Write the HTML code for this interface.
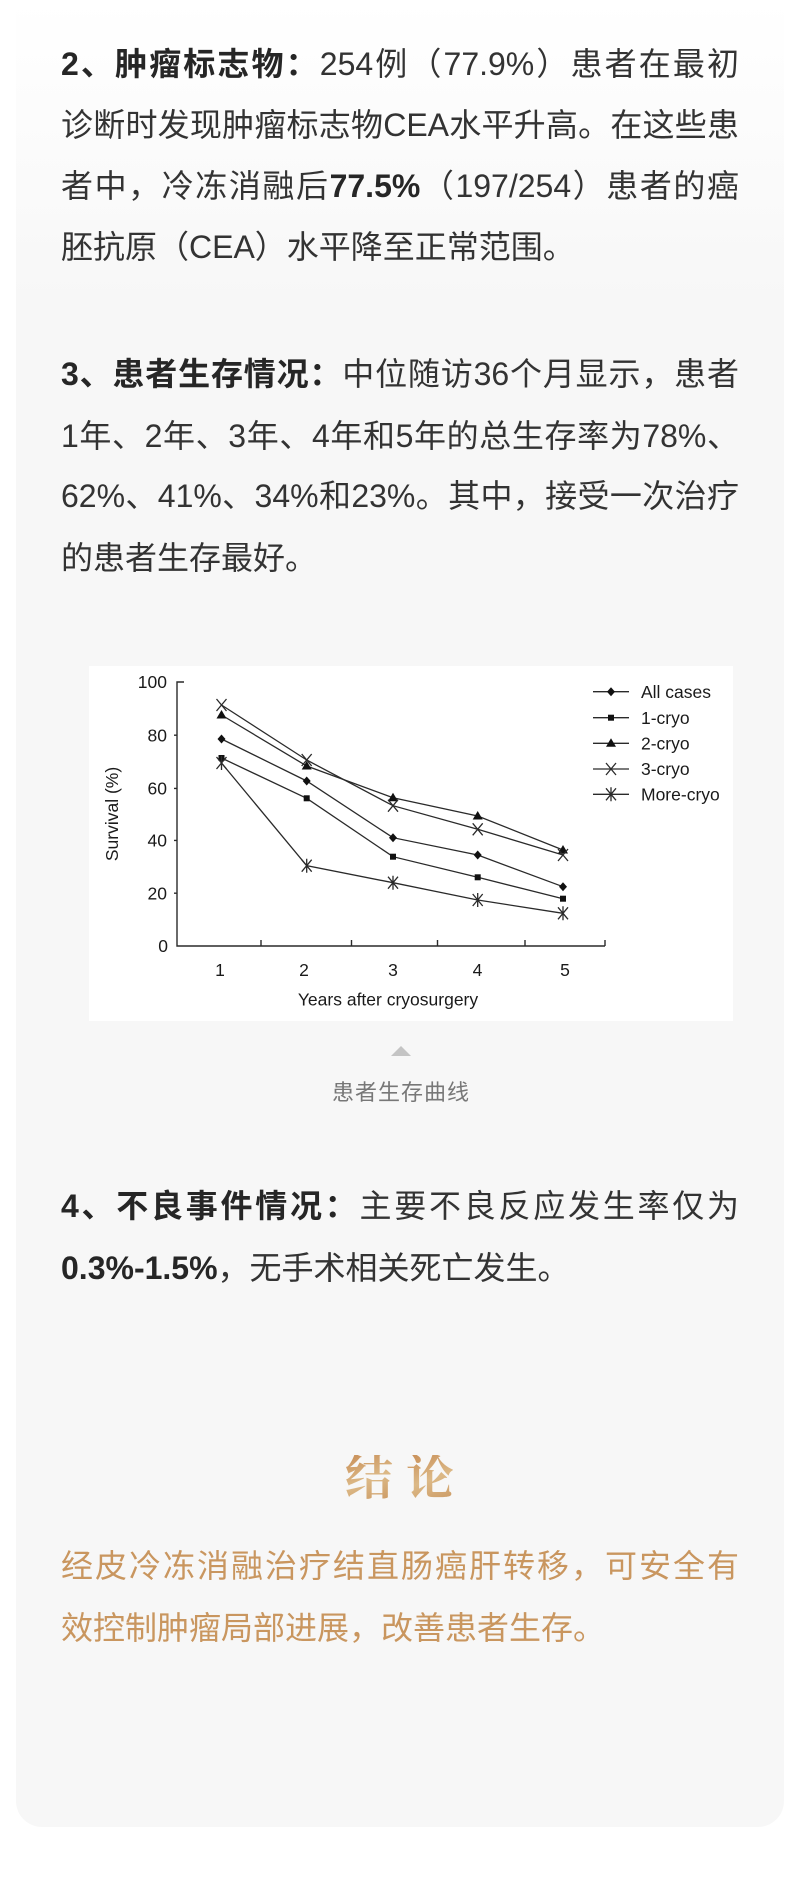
<!DOCTYPE html>
<html>
<head>
<meta charset="utf-8">
<style>
html,body{margin:0;padding:0;background:#fff;}
body{width:800px;height:1890px;position:relative;overflow:hidden;}
.card{position:absolute;left:16px;top:0;width:768px;height:1827px;border-radius:0 0 26px 26px;background:linear-gradient(to bottom,#ffffff 0px,#f7f7f7 300px,#f7f7f7 100%);}
.ln{position:absolute;left:61px;width:678px;height:61px;line-height:61px;font-size:32px;font-family:"Liberation Sans","Noto Sans CJK SC",sans-serif;color:#333;white-space:nowrap;}
.j{text-align:justify;text-align-last:justify;}
.ln b{font-weight:700;color:#262626;}
.gold{color:#c9965f;}
.h{position:absolute;top:1455px;width:52px;height:48px;line-height:48px;font-size:48px;font-weight:700;font-family:"Liberation Serif","Noto Serif CJK SC",serif;background:linear-gradient(160deg,#c88e57 0%,#dcb987 50%,#c9955f 100%);-webkit-background-clip:text;background-clip:text;color:transparent;}
.chart{position:absolute;left:89px;top:666px;width:644px;height:355px;background:#fff;}
.tri{position:absolute;left:391px;top:1046px;width:0;height:0;border-left:10px solid transparent;border-right:10px solid transparent;border-bottom:10px solid #c4c4c4;}
.cap{position:absolute;left:0;top:1082px;width:800px;text-align:center;font-size:22px;line-height:22px;letter-spacing:1px;padding-left:1px;color:#777;font-family:"Liberation Sans","Noto Sans CJK SC",sans-serif;}
</style>
</head>
<body>
<div class="card"></div>

<div class="ln j" style="top:34px"><b>2、肿瘤标志物：</b>254例（77.9%）患者在最初</div>
<div class="ln j" style="top:95px">诊断时发现肿瘤标志物CEA水平升高。在这些患</div>
<div class="ln j" style="top:156px">者中，冷冻消融后<b>77.5%</b>（197/254）患者的癌</div>
<div class="ln" style="top:217px">胚抗原（CEA）水平降至正常范围。</div>

<div class="ln j" style="top:344px"><b>3、患者生存情况：</b>中位随访36个月显示，患者</div>
<div class="ln j" style="top:406px">1年、2年、3年、4年和5年的总生存率为78%、</div>
<div class="ln j" style="top:466px">62%、41%、34%和23%。其中，接受一次治疗</div>
<div class="ln" style="top:528px">的患者生存最好。</div>

<div class="chart"></div>
<svg style="position:absolute;left:89px;top:666px" width="644" height="355" viewBox="89 666 644 355" xmlns="http://www.w3.org/2000/svg">
  <g stroke="#2a2a2a" stroke-width="1.4" fill="none">
    <path d="M184 682 H177 V946 H605"/>
    <path d="M174 735.2 H177 M174 788.4 H177 M174 840.4 H177 M174 893.2 H177"/>
    <path d="M261 946 V940 M351.5 946 V940 M437.5 946 V940 M525 946 V940 M605 946 V940"/>
  </g>
  <g font-family="Liberation Sans, DejaVu Sans, sans-serif" font-size="17.5" fill="#1a1a1a">
    <g text-anchor="end">
      <text x="167" y="688">100</text>
      <text x="167" y="741.3">80</text>
      <text x="167" y="794.5">60</text>
      <text x="167" y="846.5">40</text>
      <text x="167" y="899.3">20</text>
      <text x="168" y="952">0</text>
    </g>
    <g text-anchor="middle">
      <text x="220" y="976">1</text>
      <text x="304" y="976">2</text>
      <text x="393" y="976">3</text>
      <text x="477.5" y="976">4</text>
      <text x="565" y="976">5</text>
      <text x="388" y="1005.5">Years after cryosurgery</text>
      <text transform="translate(118,814) rotate(-90)" x="0" y="0">Survival (%)</text>
    </g>
    <text x="641" y="698">All cases</text>
    <text x="641" y="724">1-cryo</text>
    <text x="641" y="749.5">2-cryo</text>
    <text x="641" y="775.2">3-cryo</text>
    <text x="641" y="800.5">More-cryo</text>
  </g>
  <g stroke="#2a2a2a" stroke-width="1.3" fill="none">
    <polyline points="221.5,739 306.7,781 393,837.7 477.7,855 563,886.7"/>
    <polyline points="221.5,758 306.7,798.3 393,856.7 477.7,877.3 563,898.7"/>
    <polyline points="221.5,715 306.7,766 393,797.7 477.7,816 563,850"/>
    <polyline points="221.5,705 306.7,760 393,805.7 477.7,829.3 563,855"/>
    <polyline points="221.5,763 306.7,865.7 393,882.7 477.7,900 563,913.3"/>
    <path d="M593 691.7 H629 M593 717.7 H629 M593 743.3 H629 M593 769 H629 M593 794.3 H629"/>
  </g>
  <defs>
    <path id="dia" d="M0 -4.5 L4 0 L0 4.5 L-4 0 Z" fill="#111"/>
    <rect id="sq" x="-3" y="-3" width="6" height="6" fill="#111"/>
    <path id="tri" d="M0 -5 L5 3.5 L-5 3.5 Z" fill="#111"/>
    <path id="xx" d="M-5 -6 L5 6 M5 -6 L-5 6" stroke="#2a2a2a" stroke-width="1.3" fill="none"/>
    <path id="ast" d="M-5 -6 L5 6 M5 -6 L-5 6 M0 -7 V7" stroke="#2a2a2a" stroke-width="1.3" fill="none"/>
  </defs>
  <g>
    <use href="#dia" x="221.5" y="739"/><use href="#dia" x="306.7" y="781"/><use href="#dia" x="393" y="837.7"/><use href="#dia" x="477.7" y="855"/><use href="#dia" x="563" y="886.7"/>
    <use href="#sq" x="221.5" y="758"/><use href="#sq" x="306.7" y="798.3"/><use href="#sq" x="393" y="856.7"/><use href="#sq" x="477.7" y="877.3"/><use href="#sq" x="563" y="898.7"/>
    <use href="#tri" x="221.5" y="715"/><use href="#tri" x="306.7" y="766"/><use href="#tri" x="393" y="797.7"/><use href="#tri" x="477.7" y="816"/><use href="#tri" x="563" y="850"/>
    <use href="#xx" x="221.5" y="705"/><use href="#xx" x="306.7" y="760"/><use href="#xx" x="393" y="805.7"/><use href="#xx" x="477.7" y="829.3"/><use href="#xx" x="563" y="855"/>
    <use href="#ast" x="221.5" y="763"/><use href="#ast" x="306.7" y="865.7"/><use href="#ast" x="393" y="882.7"/><use href="#ast" x="477.7" y="900"/><use href="#ast" x="563" y="913.3"/>
    <use href="#dia" x="611" y="691.7"/>
    <use href="#sq" x="611" y="717.7"/>
    <use href="#tri" x="611" y="743.3"/>
    <use href="#xx" x="611" y="769"/>
    <use href="#ast" x="611" y="794.3"/>
  </g>
</svg>

<div class="tri"></div>
<div class="cap">患者生存曲线</div>

<div class="ln j" style="top:1176px"><b>4、不良事件情况：</b>主要不良反应发生率仅为</div>
<div class="ln" style="top:1238px"><b>0.3%-1.5%</b>，无手术相关死亡发生。</div>

<div class="h" style="left:345px">结</div>
<div class="h" style="left:406px">论</div>

<div class="ln j gold" style="top:1536px">经皮冷冻消融治疗结直肠癌肝转移，可安全有</div>
<div class="ln gold" style="top:1598px">效控制肿瘤局部进展，改善患者生存。</div>
</body>
</html>
